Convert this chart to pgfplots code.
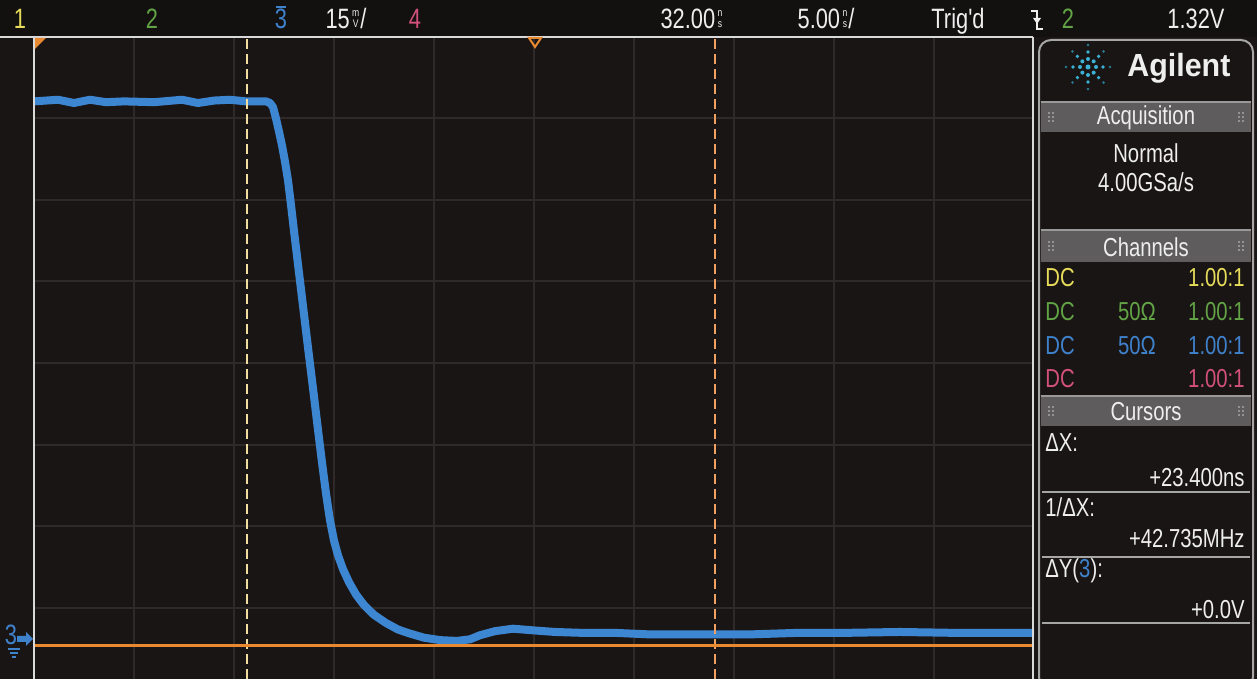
\documentclass[border=0pt]{standalone}
\usepackage{pgfplots}
\pgfplotsset{compat=1.18}
\usepackage{fontspec}
\setmainfont{Liberation Sans}
\newfontfamily\scopefont{Liberation Sans}[FakeStretch=0.78]
\newfontfamily\logofont{Liberation Sans}[FakeStretch=0.95]

\definecolor{screen}{HTML}{1A1515}
\definecolor{topbar}{HTML}{131010}
\definecolor{gridc}{HTML}{2F2927}
\definecolor{trace}{HTML}{3D86D2}
\definecolor{cyel}{HTML}{E6DC5A}
\definecolor{cgrn}{HTML}{62A345}
\definecolor{cblu}{HTML}{3F82CC}
\definecolor{cpnk}{HTML}{D2507C}
\definecolor{curyel}{HTML}{F2DDA0}
\definecolor{curorg}{HTML}{F0A060}
\definecolor{ycur}{HTML}{E98A30}
\definecolor{hdr}{HTML}{5E5C5C}
\definecolor{txt}{HTML}{EEEEEE}
\definecolor{logo}{HTML}{3AB2D6}

% small stacked unit (n over s, m over V)
\newcommand\su[2]{\kern1.2pt\raisebox{0.5pt}{\fontsize{5.5}{5.6}\selectfont\begin{tabular}[b]{@{}c@{}}#1\\#2\end{tabular}}\kern0.5pt}
\newcommand\tb[1]{\scopefont\fontsize{14}{14}\selectfont #1}
\newcommand\pan[1]{\scopefont\fontsize{13}{13}\selectfont #1}

\begin{document}
\begin{tikzpicture}[x=0.5pt,y=0.5pt]
\clip (0,0) rectangle (1257,679);
\fill[screen] (0,0) rectangle (1257,679);
\fill[topbar] (0,642) rectangle (1257,679);

\begin{axis}[
  at={(17pt,0pt)}, anchor=south west,
  scale only axis, width=500pt, height=321pt,
  xmin=7, xmax=57, ymin=-3.877, ymax=4,
  xtick={12,17,...,52}, ytick={-3,-2,...,3},
  xticklabels={}, yticklabels={},
  grid=major, major grid style={gridc, line width=1pt},
  tick style={draw=none}, axis line style={draw=none},
]
% channel 3 falling edge (ns, divisions)
\addplot[trace, line width=4pt, line join=round, line cap=round] coordinates {
  (7.0,3.21) (8.2,3.23) (9.0,3.19) (9.8,3.23) (10.6,3.20) (11.5,3.21)
  (13.0,3.20) (14.4,3.23) (15.2,3.19) (16.0,3.22) (16.8,3.23) (17.6,3.21)
  (18.2,3.21) (18.6,3.21) (18.8,3.19) (18.95,3.14) (19.1,3.00) (19.25,2.84)
  (19.4,2.67) (19.55,2.47) (19.7,2.24) (19.85,1.94) (20.0,1.62) (20.2,1.21)
  (20.45,0.70) (20.7,0.19) (20.95,-0.31) (21.2,-0.82) (21.4,-1.22)
  (21.6,-1.60) (21.8,-1.93) (22.0,-2.18) (22.2,-2.36) (22.45,-2.53)
  (22.75,-2.69) (23.1,-2.84) (23.5,-2.97) (24.0,-3.09) (24.6,-3.19)
  (25.2,-3.27) (25.8,-3.32) (26.5,-3.37) (27.3,-3.40) (28.15,-3.41)
  (28.8,-3.39) (29.3,-3.34) (30.05,-3.29) (30.95,-3.26) (31.95,-3.28)
  (33.05,-3.30) (34.30,-3.31) (35.95,-3.31) (37.80,-3.33) (40.30,-3.33)
  (42.80,-3.33) (45.30,-3.31) (47.80,-3.31) (50.30,-3.30) (52.80,-3.31)
  (57.0,-3.31)
};
% X cursors
\addplot[curyel, line width=1.2pt, dash pattern=on 5pt off 2.5pt] coordinates {(17.65,-3.877) (17.65,4)};
\addplot[curorg, line width=1.2pt, dash pattern=on 5pt off 2.5pt] coordinates {(41.05,-3.877) (41.05,4)};
% Y cursors (both at the same level)
\addplot[ycur, line width=1.5pt] coordinates {(7,-3.47) (57,-3.47)};
\end{axis}

% screen borders
\draw[white!85!black, line width=1pt] (0,642) -- (1033,642);
\draw[white!85!black, line width=1pt] (34,0) -- (34,642);
\draw[white!85!black, line width=1pt] (1033,0) -- (1033,642);
% markers
\fill[ycur] (35,641) -- (46,641) -- (35,630) -- cycle;
\draw[ycur, line width=1pt] (529,641) -- (541,641) -- (535,632) -- cycle;
% ground marker channel 3
\node[cblu, anchor=base, inner sep=0] at (11,34) {\tb{3}};
\fill[cblu] (17,37) -- (26,37) -- (26,33) -- (33,40) -- (26,47) -- (26,43) -- (17,43) -- cycle;
\draw[cblu, line width=1pt] (8,30) -- (20,30) (10,26) -- (18,26) (12,22) -- (16,22);

% top status bar
\node[cyel, anchor=base, inner sep=0] at (20,650) {\tb{1}};
\node[cgrn, anchor=base, inner sep=0] at (152,650) {\tb{2}};
\node[cblu, anchor=base, inner sep=0] at (281,650) {\tb{3}};
\draw[cblu, line width=1pt] (276,672) -- (286,672);
\node[txt, anchor=base, inner sep=0] at (346,650) {\tb{15\su{m}{V}/}};
\node[cpnk, anchor=base, inner sep=0] at (415,650) {\tb{4}};
\node[txt, anchor=base, inner sep=0] at (692,650) {\tb{32.00\su{n}{s}}};
\node[txt, anchor=base, inner sep=0] at (826,650) {\tb{5.00\su{n}{s}/}};
\node[txt, anchor=base, inner sep=0] at (958,650) {\tb{Trig'd}};
\draw[txt, line width=1.2pt] (1031,668) -- (1037,668) -- (1037,650) -- (1043,650);
\fill[txt] (1033,661) -- (1041,661) -- (1037,655) -- cycle;
\node[cgrn, anchor=base, inner sep=0] at (1068,650) {\tb{2}};
\node[txt, anchor=base, inner sep=0] at (1196,650) {\tb{1.32V}};

% right-hand panel
\draw[gray!70, line width=1pt, rounded corners=6] (1039,-10) rectangle (1253,639);
\foreach \a in {0,45,...,315} {
  \fill[logo] (1088,612) ++(\a:8) circle (2);
  \fill[logo] (1088,612) ++(\a:15) circle (1.8);
  \fill[logo!70!black] (1088,612) ++(\a:22) circle (1.4);
}
\fill[logo] (1088,612) circle (2.5);
\node[txt, anchor=base west, inner sep=0] at (1127,602) {\logofont\bfseries\fontsize{16}{16}\selectfont Agilent};

\newcommand\hdrbar[4]{%
  \fill[hdr] (1041,#1) rectangle (1251,#2);
  \draw[gray!80, line width=0.8pt] (1041,#2) -- (1251,#2);
  \foreach \dx in {0,4} \foreach \dy in {-4,0,4} {
    \fill[gray!40] (1049+\dx,{(#1+#2)/2+\dy}) circle (0.9);
    \fill[gray!40] (1239+\dx,{(#1+#2)/2+\dy}) circle (0.9);
  }
  \node[txt, anchor=base, inner sep=0] at (1146,#3) {\pan{#4}};
}
\hdrbar{547}{577}{554}{Acquisition}
\node[txt, anchor=base, inner sep=0] at (1146,516) {\pan{Normal}};
\node[txt, anchor=base, inner sep=0] at (1146,487) {\pan{4.00GSa/s}};

\hdrbar{417}{449}{422}{Channels}
\node[cyel, anchor=base west, inner sep=0] at (1045,392) {\pan{DC}};
\node[cyel, anchor=base east, inner sep=0] at (1245,392) {\pan{1.00:1}};
\node[cgrn, anchor=base west, inner sep=0] at (1045,358) {\pan{DC}};
\node[cgrn, anchor=base, inner sep=0] at (1137,358) {\pan{50Ω}};
\node[cgrn, anchor=base east, inner sep=0] at (1245,358) {\pan{1.00:1}};
\node[cblu, anchor=base west, inner sep=0] at (1045,324) {\pan{DC}};
\node[cblu, anchor=base, inner sep=0] at (1137,324) {\pan{50Ω}};
\node[cblu, anchor=base east, inner sep=0] at (1245,324) {\pan{1.00:1}};
\node[cpnk, anchor=base west, inner sep=0] at (1045,291) {\pan{DC}};
\node[cpnk, anchor=base east, inner sep=0] at (1245,291) {\pan{1.00:1}};

\hdrbar{253}{283}{258}{Cursors}
\node[txt, anchor=base west, inner sep=0] at (1045,227) {\pan{ΔX:}};
\node[txt, anchor=base east, inner sep=0] at (1245,192) {\pan{+23.400ns}};
\draw[gray!70, line width=1pt] (1042,187) -- (1250,187);
\node[txt, anchor=base west, inner sep=0] at (1045,162) {\pan{1/ΔX:}};
\node[txt, anchor=base east, inner sep=0] at (1245,131) {\pan{+42.735MHz}};
\draw[gray!70, line width=1pt] (1042,122) -- (1250,122);
\node[txt, anchor=base west, inner sep=0] at (1045,101) {\pan{ΔY(\textcolor{cblu}{3}):}};
\node[txt, anchor=base east, inner sep=0] at (1245,60) {\pan{+0.0V}};
\draw[gray!70, line width=1pt] (1042,56) -- (1250,56);
\end{tikzpicture}
\end{document}
